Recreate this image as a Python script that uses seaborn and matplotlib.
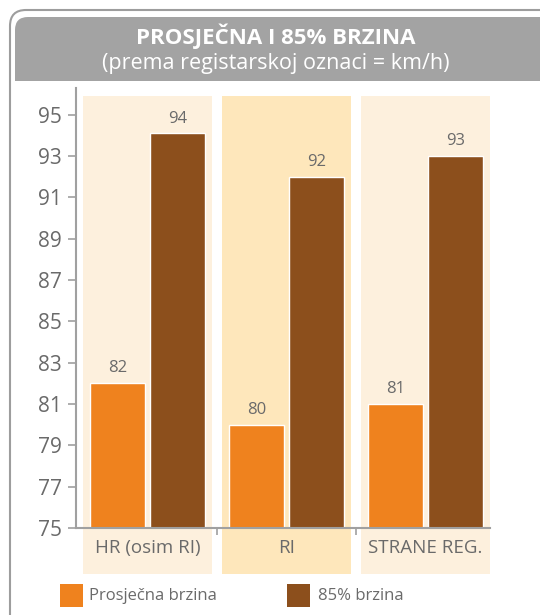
import matplotlib
matplotlib.use("Agg")
import matplotlib.pyplot as plt
from matplotlib.patches import FancyBboxPatch, Rectangle
import seaborn as sns
import pandas as pd

# ---- data ----
categories = ["HR (osim RI)", "RI", "STRANE REG."]
series_names = ["Prosječna brzina", "85% brzina"]
avg_speed = [82, 80, 81]
p85_speed = [94.1, 92, 93]
y_ticks = [75, 77, 79, 81, 83, 85, 87, 89, 91, 93, 95]
title = "PROSJEČNA I 85% BRZINA"
subtitle = "(prema registarskoj oznaci = km/h)"

# ---- style ----
ORANGE = "#ef821e"
BROWN = "#8c4f1c"
TEXT = "#6a6a6a"
GRID = "#a0a0a0"
PANEL_LIGHT = "#fdf0dd"
PANEL_MID = "#fee7bb"
FONT = ["Open Sans", "DejaVu Sans"]

sns.set_theme(style="white")
plt.rcParams["font.family"] = FONT

df = pd.DataFrame({
    "kategorija": categories * 2,
    "brzina": avg_speed + p85_speed,
    "serija": [series_names[0]] * 3 + [series_names[1]] * 3,
})

W, H = 540, 615
fig = plt.figure(figsize=(W / 100, H / 100), dpi=100)

# background axes in pixel coordinates
bg = fig.add_axes([0, 0, 1, 1], zorder=-1)
bg.set_xlim(0, W)
bg.set_ylim(H, 0)
bg.axis("off")
bg.add_patch(FancyBboxPatch((10, 10), 570, 650,
                            boxstyle="round,pad=0,rounding_size=16",
                            facecolor="white", edgecolor="#9d9d9d", lw=1.5))
bg.add_patch(FancyBboxPatch((15, 17), 560, 64,
                            boxstyle="round,pad=0,rounding_size=13",
                            facecolor="#a3a3a3", edgecolor="none"))
bg.add_patch(Rectangle((15, 45), 560, 36, facecolor="#a3a3a3", edgecolor="none"))
bg.text(276, 36, title, ha="center", va="center", color="white",
        fontsize=16, fontweight="bold", family=FONT)
bg.text(276, 63, subtitle, ha="center", va="center", color="white",
        fontsize=15.5, family=FONT)

# legend (manual, in pixel coords)
bg.add_patch(Rectangle((60, 584), 23, 23, facecolor=ORANGE, edgecolor="none"))
bg.text(89, 596, series_names[0], ha="left", va="center", color=TEXT,
        fontsize=12, family=FONT)
bg.add_patch(Rectangle((287, 584), 23, 23, facecolor=BROWN, edgecolor="none"))
bg.text(318, 596, series_names[1], ha="left", va="center", color=TEXT,
        fontsize=12, family=FONT)

# main axes
ax = fig.add_axes([76 / W, 1 - 528 / H, (490 - 76) / W, (528 - 88) / H])
ax.patch.set_alpha(0)

sns.barplot(data=df, x="kategorija", y="brzina", hue="serija",
            palette=[ORANGE, BROWN], width=0.86, gap=0.09,
            saturation=1, ax=ax, legend=False, zorder=2)

ax.set_ylim(75, 96.3)
ax.set_xlim(-0.514, 2.464)

# category panels
panel_colors = [PANEL_LIGHT, PANEL_MID, PANEL_LIGHT]
for i, c in enumerate(panel_colors):
    ax.add_patch(Rectangle((i - 0.464, 72.77), 0.928, 95.92 - 72.77,
                           facecolor=c, edgecolor="none", zorder=0,
                           clip_on=False))

for cont in ax.containers:
    ax.bar_label(cont, fmt="%.0f", padding=5, color=TEXT, fontsize=12,
                 family=FONT)

ax.set_yticks(y_ticks)
ax.set_yticklabels([str(t) for t in y_ticks])
ax.set_xticks(range(len(categories)))
ax.set_xticklabels(categories)
ax.set_xticks([0.5, 1.5], minor=True)
ax.tick_params(axis="x", which="major", length=0, pad=8, labelsize=13.5,
               labelcolor=TEXT)
ax.tick_params(axis="x", which="minor", length=5, width=1.2, color=GRID,
               direction="out", bottom=True)
ax.tick_params(axis="y", length=6, width=1.2, color=GRID, direction="out",
               labelsize=15, labelcolor=TEXT, pad=4, left=True)
ax.set_xlabel("")
ax.set_ylabel("")

for s in ["top", "right"]:
    ax.spines[s].set_visible(False)
for s in ["left", "bottom"]:
    ax.spines[s].set_color(GRID)
    ax.spines[s].set_linewidth(1.5)
    ax.spines[s].set_zorder(3)

fig.savefig("out.png", dpi=100)
